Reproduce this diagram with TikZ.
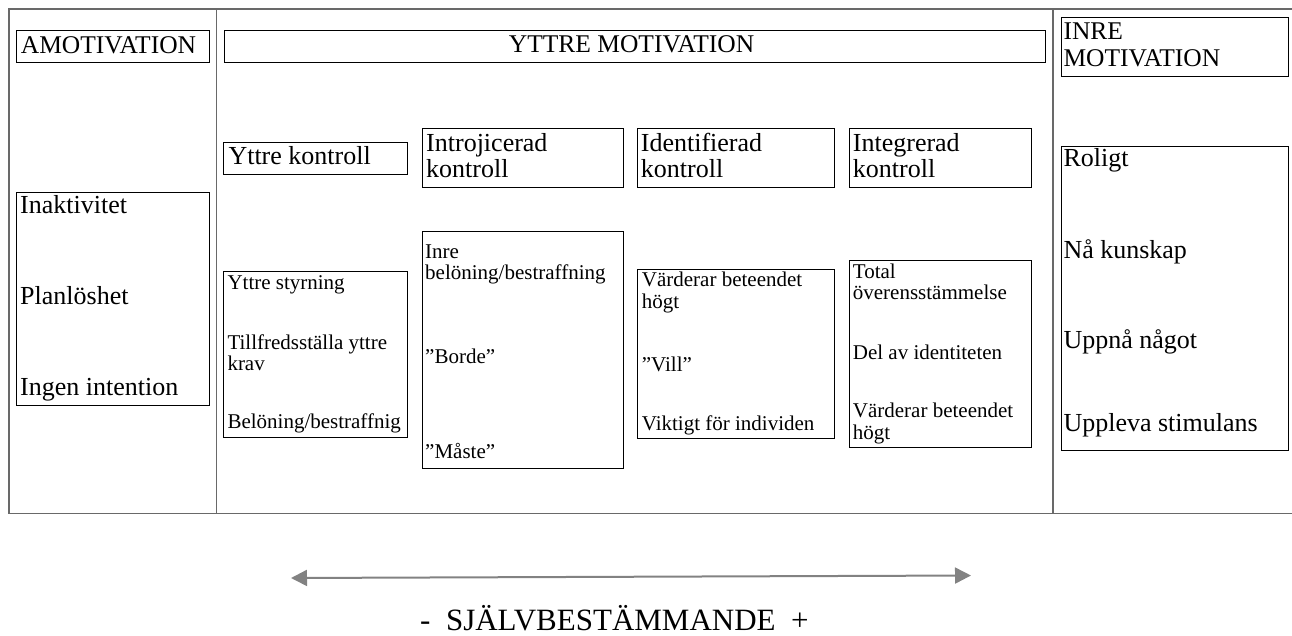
\documentclass[tikz,border=0pt]{standalone}
\usepackage{fontspec}
\setmainfont{Liberation Serif}
\usetikzlibrary{arrows.meta}
\definecolor{framegray}{RGB}{105,105,105}
\definecolor{arrowgray}{RGB}{130,130,130}
\tikzset{
  box/.style={draw=black, line width=1pt, inner sep=0pt, anchor=north west},
  frameline/.style={draw=framegray, line width=1.4pt},
  big/.style={inner sep=0pt, anchor=base west, font=\fontsize{26}{26}\selectfont},
  head/.style={inner sep=0pt, anchor=base west, font=\fontsize{25.5}{25.5}\selectfont},
  small/.style={inner sep=0pt, anchor=base west, font=\fontsize{21}{21}\selectfont},
  bottomtext/.style={inner sep=0pt, anchor=base west, font=\fontsize{31}{31}\selectfont},
  scalearrow/.style={draw=arrowgray, line width=2pt,
    {Triangle[length=16pt,width=16pt]}-{Triangle[length=16pt,width=16pt]}},
}
\begin{document}
\begin{tikzpicture}[x=1pt,y=-1pt]
\useasboundingbox (0,0) rectangle (1292,635);
% outer frame
\draw[frameline] (1292,9) -- (9,9) -- (9,513.5) -- (1292,513.5);
\draw[frameline] (216.7,9) -- (216.7,513.5);
\draw[frameline] (1053,9) -- (1053,513.5);

% header boxes
\node[box, minimum width=193pt, minimum height=32.3pt] (amoH) at (16.3,30) {};
\node[box, minimum width=821pt, minimum height=31.7pt] (yttH) at (224,30) {};
\node[box, minimum width=226.7pt, minimum height=59pt] (inreH) at (1061,17.3) {};
\node[head] (tAmo) at (20.7,53.3) {AMOTIVATION};
\node[head, anchor=base] (tYtt) at (631.5,52.7) {YTTRE MOTIVATION};
\node[head] (tInre1) at (1063.3,39) {INRE};
\node[head] (tInre2) at (1063.3,66.7) {MOTIVATION};

% control boxes
\node[box, minimum width=184pt, minimum height=32pt] (kon1) at (223.3,142.3) {};
\node[box, minimum width=200.4pt, minimum height=59pt] (kon2) at (422.3,128.3) {};
\node[box, minimum width=197pt, minimum height=59pt] (kon3) at (637.3,128.3) {};
\node[box, minimum width=181.2pt, minimum height=59pt] (kon4) at (849.3,128.3) {};
\node[big] (tKon1) at (228.3,164.3) {Yttre kontroll};
\node[big] (tKon2a) at (426,151.7) {Introjicerad};
\node[big] (tKon2b) at (426,177.3) {kontroll};
\node[big] (tKon3a) at (640.7,151.7) {Identifierad};
\node[big] (tKon3b) at (640.7,177.3) {kontroll};
\node[big] (tKon4a) at (852.7,151.7) {Integrerad};
\node[big] (tKon4b) at (852.7,177.3) {kontroll};

% list boxes
\node[box, minimum width=193pt, minimum height=213.6pt] (amoL) at (16.3,191.7) {};
\node[box, minimum width=184pt, minimum height=166.3pt] (list1) at (223.3,271) {};
\node[box, minimum width=200.4pt, minimum height=237.3pt] (list2) at (422.3,231) {};
\node[box, minimum width=197pt, minimum height=169pt] (list3) at (637.3,269.3) {};
\node[box, minimum width=181.2pt, minimum height=187.3pt] (list4) at (849.3,260) {};
\node[box, minimum width=226.7pt, minimum height=304.3pt] (inreL) at (1061,145.7) {};

% amotivation list
\node[big] (a1) at (20,213.3) {Inaktivitet};
\node[big] (a2) at (20,304) {Planlöshet};
\node[big] (a3) at (20,395.7) {Ingen intention};

% yttre kontroll list
\node[small] (y1) at (227.3,289.3) {Yttre styrning};
\node[small] (y2a) at (227.3,349.3) {Tillfredsställa yttre};
\node[small] (y2b) at (227.3,370.7) {krav};
\node[small] (y3) at (227.3,428.3) {Belöning/bestraffnig};

% introjicerad list
\node[small] (i1a) at (425,258.3) {Inre};
\node[small] (i1b) at (425,279.3) {belöning/bestraffning};
\node[small] (i2) at (425,363.3) {”Borde”};
\node[small] (i3) at (425,458.3) {”Måste”};

% identifierad list
\node[small] (d1a) at (641.7,286.7) {Värderar beteendet};
\node[small] (d1b) at (641.7,308.3) {högt};
\node[small] (d2) at (641.7,371.7) {”Vill”};
\node[small] (d3) at (641.7,430) {Viktigt för individen};

% integrerad list
\node[small] (g1a) at (852.7,278.3) {Total};
\node[small] (g1b) at (852.7,299) {överensstämmelse};
\node[small] (g2) at (852.7,359) {Del av identiteten};
\node[small] (g3a) at (852.7,417.7) {Värderar beteendet};
\node[small] (g3b) at (852.7,439) {högt};

% inre list
\node[big] (r1) at (1063.3,166.7) {Roligt};
\node[big] (r2) at (1063.3,258.3) {Nå kunskap};
\node[big] (r3) at (1063.3,348.3) {Uppnå något};
\node[big] (r4) at (1063.3,431) {Uppleva stimulans};

% scale arrow
\coordinate (arrL) at (291,578);
\coordinate (arrR) at (971,575.5);
\draw[scalearrow] (arrL) -- (arrR);
\node[bottomtext] (sdt) at (420,630) {-\ \ SJÄLVBESTÄMMANDE\ \ +};
\end{tikzpicture}
\end{document}
